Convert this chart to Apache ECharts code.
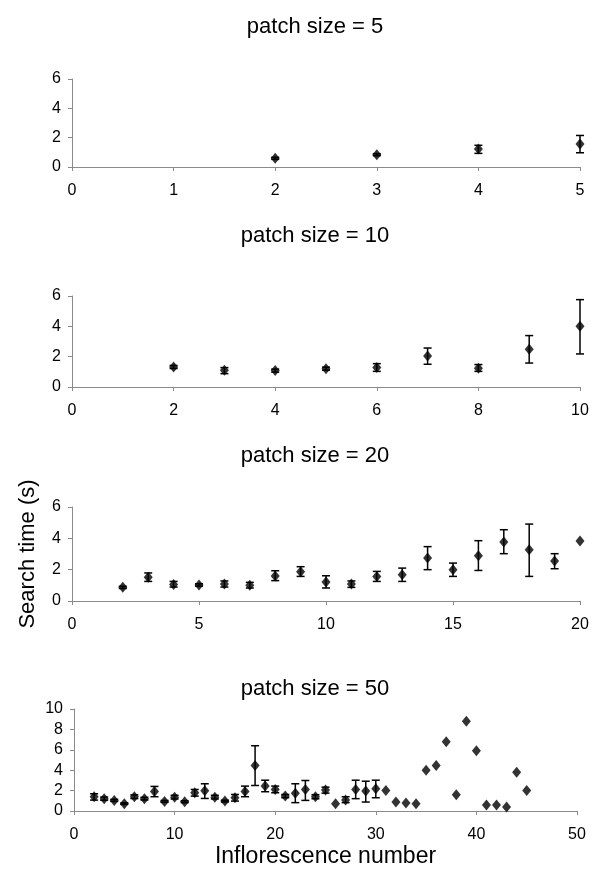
<!DOCTYPE html>
<html>
<head>
<meta charset="utf-8">
<script src="https://cdn.jsdelivr.net/npm/echarts@6/dist/echarts.min.js"></script>
<style>
  html, body { margin: 0; padding: 0; background: #fff; }
  #main { width: 595px; height: 869px; }
</style>
</head>
<body>
<div id="main"></div>
<script>
// patch size = 5
var x5 = [2, 3, 4, 5];
var mean5 = [0.59, 0.84, 1.22, 1.56];
var low5 = [0.52, 0.77, 0.93, 0.97];
var high5 = [0.66, 0.91, 1.48, 2.15];

// patch size = 10
var x10 = [2, 3, 4, 5, 6, 7, 8, 9, 10];
var mean10 = [1.32, 1.10, 1.08, 1.21, 1.28, 2.04, 1.23, 2.49, 4.00];
var low10 = [1.22, 0.88, 0.98, 1.11, 1.03, 1.50, 1.03, 1.58, 2.18];
var high10 = [1.42, 1.28, 1.18, 1.31, 1.54, 2.57, 1.48, 3.39, 5.76];

// patch size = 20
var x20 = [2, 3, 4, 5, 6, 7, 8, 9, 10, 11, 12, 13, 14, 15, 16, 17, 18, 19, 20];
var mean20 = [0.87, 1.51, 1.06, 1.02, 1.08, 1.00, 1.59, 1.87, 1.21, 1.08, 1.57, 1.68, 2.74, 2.00, 2.89, 3.76, 3.27, 2.55, 3.83];
var low20 = [0.80, 1.25, 0.89, 0.95, 0.89, 0.83, 1.30, 1.57, 0.83, 0.87, 1.25, 1.25, 2.00, 1.57, 1.95, 3.02, 1.57, 2.06, 3.83];
var high20 = [0.94, 1.79, 1.25, 1.10, 1.28, 1.19, 1.93, 2.19, 1.61, 1.28, 1.89, 2.10, 3.47, 2.42, 3.85, 4.55, 4.91, 3.02, 3.83];

// patch size = 50
var x50 = [2, 3, 4, 5, 6, 7, 8, 9, 10, 11, 12, 13, 14, 15, 16, 17, 18, 19, 20, 21, 22, 23,
  24, 25, 26, 27, 28, 29, 30, 31, 32, 33, 34, 35, 36, 37, 38, 39, 40, 41, 42, 43, 44, 45];
var mean50 = [1.40, 1.21, 1.04, 0.72, 1.40, 1.21, 1.92, 0.94, 1.36, 0.91, 1.79, 1.99, 1.36, 0.97, 1.30, 1.92, 4.45, 2.44, 2.11, 1.46, 1.75, 2.11,
  1.40, 2.05, 0.72, 1.07, 2.11, 1.95, 2.18, 2.02, 0.88, 0.78, 0.72, 3.99, 4.45, 6.79, 1.60, 8.80, 5.91, 0.58, 0.58, 0.39, 3.80, 2.02];
var low50 = [1.07, 1.05, 0.94, 0.65, 1.22, 1.08, 1.40, 0.85, 1.18, 0.82, 1.46, 1.23, 1.18, 0.88, 0.97, 1.40, 2.50, 1.89, 1.79, 1.30, 0.82, 1.04,
  1.20, 1.75, 0.72, 0.82, 1.21, 0.88, 1.30, 2.02, 0.88, 0.78, 0.72, 3.99, 4.45, 6.79, 1.60, 8.80, 5.91, 0.58, 0.58, 0.39, 3.80, 2.02];
var high50 = [1.69, 1.37, 1.14, 0.80, 1.58, 1.34, 2.41, 1.03, 1.54, 1.00, 2.11, 2.67, 1.54, 1.06, 1.62, 2.44, 6.40, 3.02, 2.44, 1.62, 2.67, 2.99,
  1.60, 2.34, 0.72, 1.40, 3.02, 2.92, 3.02, 2.02, 0.88, 0.78, 0.72, 3.99, 4.45, 6.79, 1.60, 8.80, 5.91, 0.58, 0.58, 0.39, 3.80, 2.02];

var titles = ['patch size = 5', 'patch size = 10', 'patch size = 20', 'patch size = 50'];
var xMax = [5, 10, 20, 50];
var xStep = [1, 2, 5, 10];
var yMax = [6, 6, 6, 10];
var yStep = [2, 2, 2, 2];

var font = "'Liberation Sans', Arial, sans-serif";
var axisGray = '#8a8a8a';

var panels = [
  { x: x5, m: mean5, lo: low5, hi: high5 },
  { x: x10, m: mean10, lo: low10, hi: high10 },
  { x: x20, m: mean20, lo: low20, hi: high20 },
  { x: x50, m: mean50, lo: low50, hi: high50 }
];

var grids = [
  { left: 72, top: 79, width: 508, height: 88 },
  { left: 72, top: 296, width: 508, height: 91 },
  { left: 72, top: 507, width: 508, height: 94 },
  { left: 74, top: 709, width: 503, height: 103 }
];
var titleTops = [11, 220, 440, 673];

function errorBar(params, api) {
  var x = api.value(0);
  var lo = api.coord([x, api.value(1)]);
  var hi = api.coord([x, api.value(2)]);
  var cap = 4;
  var style = { stroke: '#000', lineWidth: 1.5 };
  return {
    type: 'group',
    children: [
      { type: 'line', shape: { x1: lo[0], y1: lo[1], x2: hi[0], y2: hi[1] }, style: style },
      { type: 'line', shape: { x1: lo[0] - cap, y1: lo[1], x2: lo[0] + cap, y2: lo[1] }, style: style },
      { type: 'line', shape: { x1: hi[0] - cap, y1: hi[1], x2: hi[0] + cap, y2: hi[1] }, style: style }
    ]
  };
}

var xAxes = [], yAxes = [], series = [], titleList = [];

panels.forEach(function (p, i) {
  titleList.push({
    text: titles[i],
    left: 310,
    top: titleTops[i],
    textAlign: 'center',
    textStyle: { fontFamily: font, fontSize: 22, fontWeight: 'normal', color: '#000' }
  });

  xAxes.push({
    type: 'value', gridIndex: i, min: 0, max: xMax[i], interval: xStep[i],
    axisLine: { lineStyle: { color: axisGray, width: 1 } },
    axisTick: { show: true, length: 4, lineStyle: { color: axisGray } },
    splitLine: { show: false },
    axisLabel: { fontFamily: font, fontSize: 16, color: '#000', margin: 16 },
    name: i === 3 ? 'Inflorescence number' : '',
    nameLocation: 'middle',
    nameGap: 34,
    nameTextStyle: { fontFamily: font, fontSize: 23, color: '#000' }
  });

  yAxes.push({
    type: 'value', gridIndex: i, min: 0, max: yMax[i], interval: yStep[i],
    axisLine: { show: true, lineStyle: { color: axisGray, width: 1 } },
    axisTick: { show: true, length: 4, lineStyle: { color: axisGray } },
    splitLine: { show: false },
    axisLabel: { fontFamily: font, fontSize: 16, color: '#000', margin: 11 },
    name: i === 2 ? 'Search time (s)' : '',
    nameLocation: 'middle',
    nameGap: 33,
    nameTextStyle: { fontFamily: font, fontSize: 22, color: '#000' }
  });

  var bars = [];
  var pts = [];
  for (var k = 0; k < p.x.length; k++) {
    pts.push([p.x[k], p.m[k]]);
    if (p.hi[k] > p.lo[k]) bars.push([p.x[k], p.lo[k], p.hi[k]]);
  }

  series.push({
    type: 'custom',
    xAxisIndex: i, yAxisIndex: i,
    renderItem: errorBar,
    encode: { x: 0, y: [1, 2] },
    data: bars,
    silent: true,
    z: 2
  });
  series.push({
    type: 'scatter',
    xAxisIndex: i, yAxisIndex: i,
    symbol: 'diamond',
    symbolSize: [9, 11],
    itemStyle: { color: '#000' },
    data: pts,
    silent: true,
    z: 3
  });
});

var chart = echarts.init(document.getElementById('main'), null, { renderer: 'canvas' });
chart.setOption({
  backgroundColor: '#fff',
  animation: false,
  title: titleList,
  grid: grids,
  xAxis: xAxes,
  yAxis: yAxes,
  series: series
});
</script>
</body>
</html>
